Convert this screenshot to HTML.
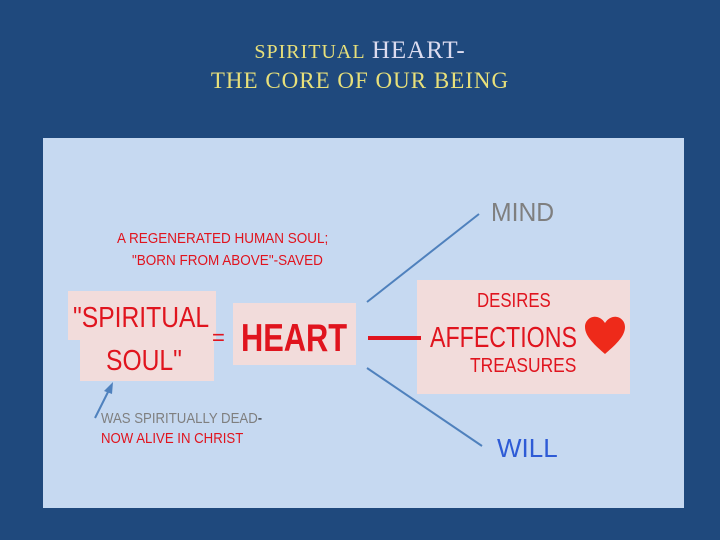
<!DOCTYPE html>
<html><head><meta charset="utf-8"><style>
body{margin:0;width:720px;height:540px;background:#1f497d;position:relative;overflow:hidden;font-family:"Liberation Sans",sans-serif}
.a{position:absolute;white-space:nowrap;transform-origin:0 0}
.t{font-family:"Liberation Serif",serif;color:#e8e07a;font-size:21px;left:0;width:720px;text-align:center;letter-spacing:1px}
.box{position:absolute;background:#f2dcdb}
</style></head><body>
<div class="a t" style="top:37px"><span style="font-size:20px">SPIRITUAL</span> <span style="color:#dcdcf0;font-size:25px">HEART-</span></div>
<div class="a t" style="top:68px;font-size:23px">THE CORE OF OUR BEING</div>
<div style="position:absolute;left:43px;top:138px;width:641px;height:370px;background:#c6d9f1"></div>
<div class="box" style="left:68px;top:291px;width:148px;height:49px"></div>
<div class="box" style="left:80px;top:330px;width:134px;height:51px"></div>
<div class="box" style="left:233px;top:303px;width:123px;height:62px"></div>
<div class="box" style="left:417px;top:280px;width:213px;height:114px"></div>
<div class="a" style="left:117px;top:230px;color:#e0141e;font-size:15px;transform:scaleX(0.9)">A REGENERATED HUMAN SOUL;</div>
<div class="a" style="left:132px;top:252px;color:#e0141e;font-size:15px;transform:scaleX(0.9)">"BORN FROM ABOVE"-SAVED</div>
<div class="a" style="left:73px;top:302px;color:#e0141e;font-size:29px;transform:scaleX(0.85)">"SPIRITUAL</div>
<div class="a" style="left:106px;top:345px;color:#e0141e;font-size:29px;transform:scaleX(0.85)">SOUL"</div>
<div class="a" style="left:212px;top:325px;color:#e0141e;font-size:22px">=</div>
<div class="a" style="left:241px;top:317px;color:#e0141e;font-size:39px;font-weight:bold;transform:scaleX(0.79)">HEART</div>
<div class="a" style="left:101px;top:410px;color:#7f7f7f;font-size:15px;transform:scaleX(0.88)">WAS SPIRITUALLY DEAD<span style="color:#222">-</span></div>
<div class="a" style="left:101px;top:430px;color:#e0141e;font-size:15px;transform:scaleX(0.88)">NOW ALIVE IN CHRIST</div>
<div class="a" style="left:491px;top:197px;color:#7f7f7f;font-size:26px;transform:scaleX(0.95)">MIND</div>
<div class="a" style="left:497px;top:433px;color:#2e5bd6;font-size:26px">WILL</div>
<div class="a" style="left:477px;top:290px;color:#e0141e;font-size:20px;transform:scaleX(0.84)">DESIRES</div>
<div class="a" style="left:430px;top:322px;color:#e0141e;font-size:29px;transform:scaleX(0.8)">AFFECTIONS</div>
<div class="a" style="left:470px;top:355px;color:#e0141e;font-size:20px;transform:scaleX(0.87)">TREASURES</div>
<svg width="720" height="540" style="position:absolute;left:0;top:0">
<line x1="367" y1="302" x2="479" y2="214" stroke="#4f81bd" stroke-width="2"/>
<line x1="367" y1="368" x2="482" y2="446" stroke="#4f81bd" stroke-width="2"/>
<line x1="368" y1="338" x2="421" y2="338" stroke="#e0141e" stroke-width="4"/>
<line x1="95" y1="418" x2="111" y2="386" stroke="#4f81bd" stroke-width="2"/>
<polygon points="113,382 104,391 112,394" fill="#4f81bd"/>
<path d="M605 354 C596 346 585 337 585 327 C585 317 598 312 605 323 C612 312 625 317 625 327 C625 337 614 346 605 354Z" fill="#ee2a1a"/>
</svg>
</body></html>
